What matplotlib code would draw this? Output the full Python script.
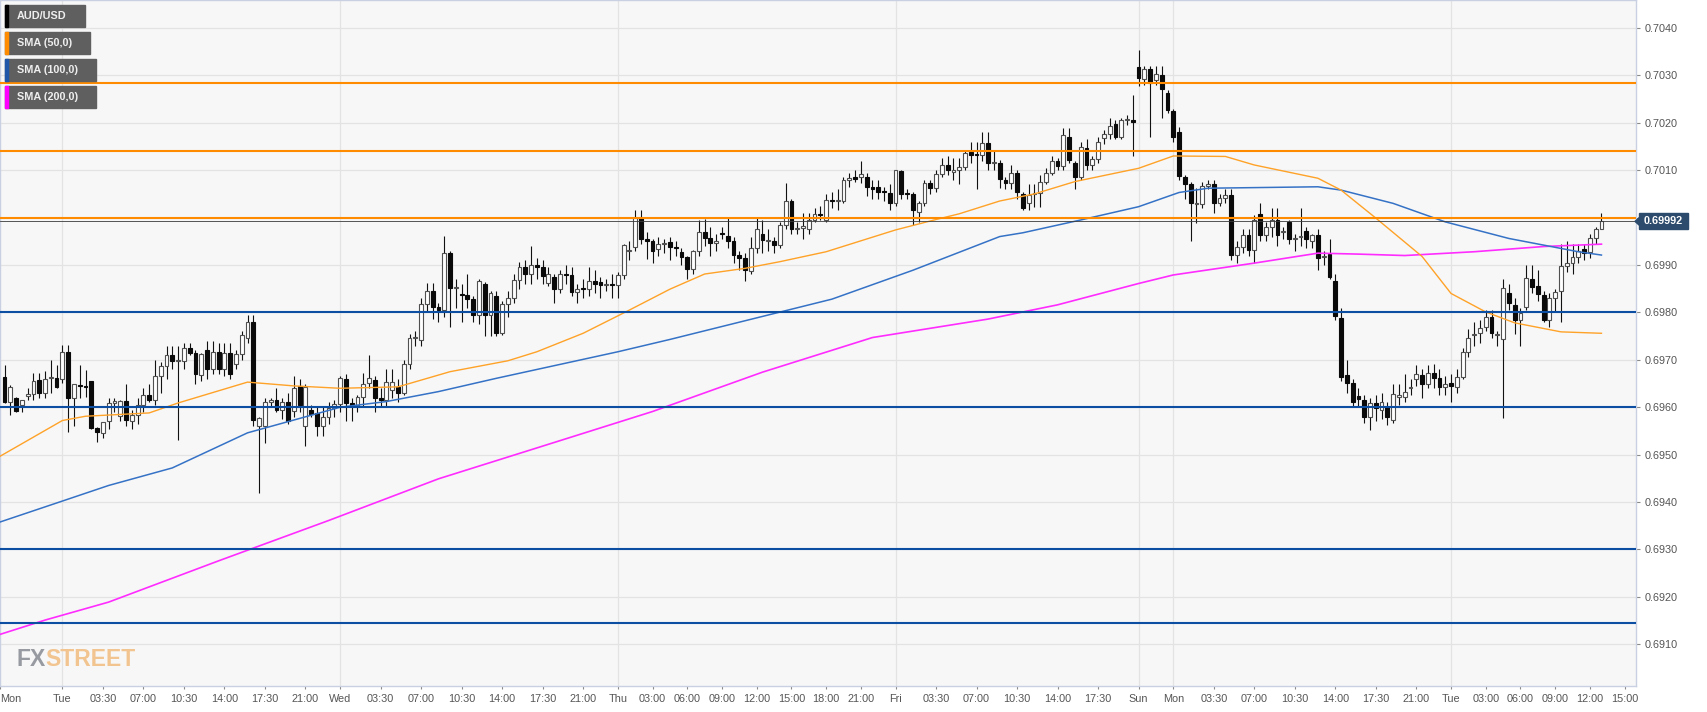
import numpy as np
import matplotlib
matplotlib.use("Agg")
import matplotlib.pyplot as plt
from matplotlib.patches import Rectangle, Polygon

plt.rcParams['font.family'] = ['Liberation Sans', 'DejaVu Sans']

# AUD/USD 30-minute candles (bar index 0 = Mon 19:00)
opens = [
    0.69664, 0.69612, 0.69619, 0.69604, 0.69624, 0.69627, 0.69657, 0.69631, 0.69662, 0.69662,
    0.69660, 0.69717, 0.69620, 0.69646, 0.69644, 0.69655, 0.69557, 0.69545, 0.69570, 0.69608,
    0.69582, 0.69614, 0.69572, 0.69584, 0.69605, 0.69626, 0.69615, 0.69666, 0.69687, 0.69710,
    0.69697, 0.69697, 0.69724, 0.69714, 0.69667, 0.69720, 0.69680, 0.69717, 0.69680, 0.69714,
    0.69692, 0.69712, 0.69747, 0.69780, 0.69560, 0.69560, 0.69610, 0.69615, 0.69594, 0.69610,
    0.69592, 0.69645, 0.69560, 0.69594, 0.69588, 0.69560, 0.69580, 0.69598, 0.69607, 0.69659,
    0.69608, 0.69605, 0.69621, 0.69652, 0.69657, 0.69619, 0.69615, 0.69636, 0.69643, 0.69631,
    0.69691, 0.69747, 0.69742, 0.69818, 0.69846, 0.69811, 0.69805, 0.69925, 0.69851, 0.69838,
    0.69836, 0.69828, 0.69794, 0.69860, 0.69794, 0.69835, 0.69756, 0.69818, 0.69831, 0.69868,
    0.69896, 0.69881, 0.69899, 0.69896, 0.69862, 0.69875, 0.69849, 0.69880, 0.69878, 0.69844,
    0.69852, 0.69850, 0.69866, 0.69864, 0.69857, 0.69861, 0.69857, 0.69878, 0.69930, 0.69937,
    0.70000, 0.69954, 0.69950, 0.69933, 0.69944, 0.69949, 0.69939, 0.69928, 0.69916, 0.69891,
    0.69930, 0.69970, 0.69958, 0.69946, 0.69968, 0.69962, 0.69950, 0.69922, 0.69915, 0.69888,
    0.69935, 0.69966, 0.69950, 0.69950, 0.69942, 0.69985, 0.70035, 0.69975, 0.69978, 0.69975,
    0.69996, 0.70008, 0.69996, 0.70037, 0.70035, 0.70035, 0.70079, 0.70086, 0.70085, 0.70085,
    0.70065, 0.70065, 0.70055, 0.70052, 0.70030, 0.70098, 0.70050, 0.70050, 0.70012, 0.70030,
    0.70072, 0.70063, 0.70093, 0.70112, 0.70097, 0.70101, 0.70107, 0.70139, 0.70135, 0.70133,
    0.70158, 0.70116, 0.70116, 0.70080, 0.70074, 0.70094, 0.70050, 0.70030, 0.70050, 0.70052,
    0.70076, 0.70095, 0.70120, 0.70109, 0.70171, 0.70116, 0.70085, 0.70146, 0.70110, 0.70124,
    0.70168, 0.70176, 0.70197, 0.70171, 0.70206, 0.70206, 0.70317, 0.70292, 0.70313, 0.70291,
    0.70301, 0.70263, 0.70225, 0.70180, 0.70085, 0.70071, 0.70029, 0.70029, 0.70066, 0.70071,
    0.70031, 0.70041, 0.70048, 0.69922, 0.69939, 0.69964, 0.69931, 0.70008, 0.69963, 0.69980,
    0.69994, 0.69969, 0.69990, 0.69955, 0.69959, 0.69971, 0.69951, 0.69963, 0.69917, 0.69923,
    0.69867, 0.69789, 0.69668, 0.69652, 0.69623, 0.69616, 0.69580, 0.69609, 0.69594, 0.69600,
    0.69573, 0.69621, 0.69622, 0.69640, 0.69659, 0.69668, 0.69650, 0.69673, 0.69661, 0.69642,
    0.69652, 0.69642, 0.69664, 0.69717, 0.69752, 0.69756, 0.69770, 0.69791, 0.69752, 0.69743,
    0.69840, 0.69815, 0.69784, 0.69812, 0.69870, 0.69856, 0.69836, 0.69784, 0.69830, 0.69846,
    0.69898, 0.69905, 0.69917, 0.69933, 0.69928, 0.69956, 0.69975,
]
highs = [
    0.69690, 0.69647, 0.69622, 0.69615, 0.69640, 0.69673, 0.69673, 0.69676, 0.69700, 0.69690,
    0.69731, 0.69731, 0.69650, 0.69690, 0.69678, 0.69656, 0.69558, 0.69568, 0.69620, 0.69620,
    0.69616, 0.69650, 0.69595, 0.69620, 0.69640, 0.69650, 0.69700, 0.69695, 0.69730, 0.69730,
    0.69730, 0.69735, 0.69735, 0.69720, 0.69715, 0.69740, 0.69740, 0.69735, 0.69735, 0.69735,
    0.69720, 0.69760, 0.69795, 0.69795, 0.69580, 0.69620, 0.69620, 0.69640, 0.69620, 0.69630,
    0.69665, 0.69660, 0.69650, 0.69605, 0.69600, 0.69600, 0.69610, 0.69615, 0.69665, 0.69670,
    0.69620, 0.69625, 0.69672, 0.69711, 0.69665, 0.69640, 0.69680, 0.69680, 0.69660, 0.69700,
    0.69755, 0.69760, 0.69830, 0.69862, 0.69862, 0.69820, 0.69961, 0.69930, 0.69870, 0.69860,
    0.69880, 0.69835, 0.69870, 0.69865, 0.69845, 0.69845, 0.69825, 0.69845, 0.69880, 0.69907,
    0.69910, 0.69940, 0.69915, 0.69910, 0.69895, 0.69880, 0.69890, 0.69900, 0.69895, 0.69860,
    0.69870, 0.69895, 0.69890, 0.69875, 0.69870, 0.69880, 0.69885, 0.69945, 0.69950, 0.70015,
    0.70015, 0.69970, 0.69955, 0.69960, 0.69955, 0.69960, 0.69950, 0.69935, 0.69920, 0.69932,
    0.69995, 0.69997, 0.69980, 0.69965, 0.69980, 0.69999, 0.69960, 0.69930, 0.69925, 0.69960,
    0.70000, 0.69995, 0.69975, 0.69960, 0.69990, 0.70072, 0.70040, 0.69990, 0.70010, 0.70010,
    0.70020, 0.70025, 0.70050, 0.70055, 0.70060, 0.70085, 0.70095, 0.70100, 0.70120, 0.70095,
    0.70080, 0.70080, 0.70065, 0.70070, 0.70100, 0.70100, 0.70060, 0.70055, 0.70035, 0.70080,
    0.70080, 0.70100, 0.70125, 0.70130, 0.70125, 0.70125, 0.70140, 0.70160, 0.70160, 0.70180,
    0.70180, 0.70140, 0.70122, 0.70085, 0.70110, 0.70100, 0.70055, 0.70070, 0.70070, 0.70090,
    0.70105, 0.70130, 0.70125, 0.70190, 0.70190, 0.70120, 0.70160, 0.70165, 0.70130, 0.70170,
    0.70185, 0.70210, 0.70205, 0.70210, 0.70216, 0.70259, 0.70354, 0.70320, 0.70320, 0.70320,
    0.70320, 0.70270, 0.70230, 0.70191, 0.70090, 0.70075, 0.70062, 0.70075, 0.70080, 0.70080,
    0.70050, 0.70060, 0.70060, 0.69950, 0.69975, 0.69975, 0.70005, 0.70030, 0.69990, 0.70020,
    0.70020, 0.69980, 0.69995, 0.69965, 0.70020, 0.69980, 0.69965, 0.69975, 0.69930, 0.69955,
    0.69880, 0.69810, 0.69700, 0.69660, 0.69640, 0.69625, 0.69620, 0.69625, 0.69630, 0.69610,
    0.69650, 0.69650, 0.69670, 0.69660, 0.69690, 0.69680, 0.69690, 0.69692, 0.69680, 0.69665,
    0.69670, 0.69680, 0.69725, 0.69765, 0.69780, 0.69785, 0.69805, 0.69805, 0.69760, 0.69870,
    0.69860, 0.69830, 0.69810, 0.69900, 0.69900, 0.69890, 0.69845, 0.69840, 0.69850, 0.69945,
    0.69950, 0.69945, 0.69945, 0.69945, 0.69965, 0.69980, 0.70010,
]
lows = [
    0.69608, 0.69583, 0.69590, 0.69590, 0.69615, 0.69615, 0.69620, 0.69620, 0.69630, 0.69640,
    0.69652, 0.69548, 0.69560, 0.69620, 0.69622, 0.69555, 0.69527, 0.69535, 0.69555, 0.69590,
    0.69570, 0.69560, 0.69555, 0.69565, 0.69590, 0.69610, 0.69605, 0.69630, 0.69660, 0.69680,
    0.69531, 0.69680, 0.69710, 0.69650, 0.69655, 0.69660, 0.69670, 0.69670, 0.69665, 0.69660,
    0.69680, 0.69700, 0.69735, 0.69560, 0.69419, 0.69524, 0.69600, 0.69590, 0.69575, 0.69565,
    0.69580, 0.69590, 0.69518, 0.69580, 0.69540, 0.69540, 0.69565, 0.69580, 0.69590, 0.69570,
    0.69570, 0.69590, 0.69600, 0.69640, 0.69590, 0.69600, 0.69600, 0.69620, 0.69610, 0.69625,
    0.69680, 0.69730, 0.69730, 0.69800, 0.69786, 0.69780, 0.69790, 0.69770, 0.69810, 0.69780,
    0.69810, 0.69780, 0.69775, 0.69750, 0.69750, 0.69750, 0.69752, 0.69790, 0.69820, 0.69850,
    0.69860, 0.69860, 0.69870, 0.69860, 0.69855, 0.69820, 0.69840, 0.69860, 0.69835, 0.69820,
    0.69830, 0.69835, 0.69840, 0.69830, 0.69845, 0.69830, 0.69830, 0.69870, 0.69910, 0.69930,
    0.69945, 0.69912, 0.69905, 0.69918, 0.69925, 0.69910, 0.69920, 0.69900, 0.69870, 0.69880,
    0.69920, 0.69940, 0.69920, 0.69930, 0.69955, 0.69935, 0.69905, 0.69890, 0.69866, 0.69880,
    0.69925, 0.69925, 0.69930, 0.69925, 0.69935, 0.69975, 0.69965, 0.69965, 0.69955, 0.69965,
    0.69990, 0.69995, 0.69990, 0.70020, 0.70015, 0.70030, 0.70065, 0.70075, 0.70072, 0.70045,
    0.70040, 0.70040, 0.70035, 0.70017, 0.70025, 0.70040, 0.70040, 0.69985, 0.69990, 0.70025,
    0.70050, 0.70055, 0.70085, 0.70090, 0.70080, 0.70070, 0.70100, 0.70115, 0.70060, 0.70120,
    0.70100, 0.70100, 0.70062, 0.70060, 0.70060, 0.70040, 0.70015, 0.70015, 0.70023, 0.70023,
    0.70070, 0.70090, 0.70100, 0.70100, 0.70115, 0.70060, 0.70080, 0.70100, 0.70100, 0.70115,
    0.70155, 0.70165, 0.70165, 0.70165, 0.70195, 0.70129, 0.70277, 0.70280, 0.70171, 0.70280,
    0.70210, 0.70220, 0.70160, 0.70080, 0.70039, 0.69950, 0.69988, 0.70020, 0.70060, 0.70010,
    0.70025, 0.70030, 0.69910, 0.69905, 0.69925, 0.69920, 0.69905, 0.69950, 0.69950, 0.69960,
    0.69940, 0.69955, 0.69945, 0.69930, 0.69940, 0.69935, 0.69935, 0.69890, 0.69900, 0.69870,
    0.69785, 0.69655, 0.69631, 0.69601, 0.69600, 0.69566, 0.69552, 0.69570, 0.69575, 0.69562,
    0.69566, 0.69605, 0.69610, 0.69625, 0.69645, 0.69620, 0.69640, 0.69640, 0.69625, 0.69625,
    0.69610, 0.69630, 0.69660, 0.69705, 0.69730, 0.69735, 0.69760, 0.69745, 0.69730, 0.69577,
    0.69805, 0.69755, 0.69730, 0.69805, 0.69840, 0.69825, 0.69780, 0.69770, 0.69800, 0.69780,
    0.69885, 0.69880, 0.69905, 0.69910, 0.69915, 0.69945, 0.69975,
]
closes = [
    0.69612, 0.69642, 0.69593, 0.69615, 0.69627, 0.69656, 0.69631, 0.69660, 0.69662, 0.69642,
    0.69717, 0.69620, 0.69648, 0.69645, 0.69642, 0.69557, 0.69547, 0.69568, 0.69608, 0.69614,
    0.69614, 0.69573, 0.69584, 0.69605, 0.69626, 0.69615, 0.69666, 0.69687, 0.69710, 0.69697,
    0.69697, 0.69724, 0.69715, 0.69671, 0.69712, 0.69680, 0.69717, 0.69680, 0.69714, 0.69671,
    0.69712, 0.69752, 0.69780, 0.69574, 0.69578, 0.69612, 0.69616, 0.69594, 0.69610, 0.69572,
    0.69640, 0.69605, 0.69642, 0.69586, 0.69560, 0.69580, 0.69598, 0.69607, 0.69661, 0.69608,
    0.69605, 0.69621, 0.69650, 0.69661, 0.69619, 0.69615, 0.69654, 0.69654, 0.69631, 0.69691,
    0.69747, 0.69747, 0.69818, 0.69846, 0.69811, 0.69805, 0.69925, 0.69851, 0.69851, 0.69836,
    0.69828, 0.69794, 0.69866, 0.69794, 0.69840, 0.69756, 0.69818, 0.69831, 0.69868, 0.69896,
    0.69881, 0.69899, 0.69896, 0.69876, 0.69880, 0.69849, 0.69880, 0.69878, 0.69844, 0.69850,
    0.69850, 0.69866, 0.69859, 0.69857, 0.69861, 0.69857, 0.69878, 0.69942, 0.69930, 0.70000,
    0.69954, 0.69950, 0.69929, 0.69944, 0.69946, 0.69939, 0.69935, 0.69916, 0.69891, 0.69930,
    0.69970, 0.69958, 0.69946, 0.69950, 0.69966, 0.69950, 0.69922, 0.69915, 0.69890, 0.69935,
    0.69977, 0.69952, 0.69950, 0.69942, 0.69985, 0.70035, 0.69975, 0.69978, 0.69982, 0.69996,
    0.70008, 0.70006, 0.70037, 0.70034, 0.70035, 0.70079, 0.70083, 0.70082, 0.70092, 0.70065,
    0.70061, 0.70055, 0.70054, 0.70030, 0.70100, 0.70050, 0.70049, 0.70015, 0.70030, 0.70072,
    0.70063, 0.70093, 0.70112, 0.70100, 0.70101, 0.70107, 0.70136, 0.70133, 0.70133, 0.70158,
    0.70116, 0.70116, 0.70081, 0.70072, 0.70095, 0.70055, 0.70020, 0.70047, 0.70050, 0.70076,
    0.70095, 0.70120, 0.70109, 0.70175, 0.70122, 0.70085, 0.70148, 0.70110, 0.70124, 0.70160,
    0.70176, 0.70193, 0.70171, 0.70206, 0.70206, 0.70201, 0.70294, 0.70313, 0.70284, 0.70303,
    0.70271, 0.70227, 0.70171, 0.70087, 0.70071, 0.70031, 0.70029, 0.70066, 0.70071, 0.70031,
    0.70041, 0.70048, 0.69922, 0.69939, 0.69964, 0.69931, 0.69996, 0.69963, 0.69980, 0.69994,
    0.69963, 0.69969, 0.69955, 0.69955, 0.69959, 0.69955, 0.69963, 0.69914, 0.69917, 0.69875,
    0.69792, 0.69664, 0.69652, 0.69612, 0.69618, 0.69580, 0.69608, 0.69598, 0.69612, 0.69580,
    0.69628, 0.69626, 0.69632, 0.69640, 0.69671, 0.69650, 0.69673, 0.69661, 0.69643, 0.69650,
    0.69645, 0.69664, 0.69717, 0.69745, 0.69752, 0.69768, 0.69791, 0.69756, 0.69752, 0.69851,
    0.69819, 0.69784, 0.69798, 0.69872, 0.69854, 0.69839, 0.69784, 0.69830, 0.69844, 0.69898,
    0.69905, 0.69917, 0.69930, 0.69925, 0.69956, 0.69975, 0.69992,
]

# moving averages at sample bars
sma50_x = [-1, 10, 14, 25, 30, 42, 50, 58, 68, 77, 87, 92, 100, 108, 115, 121, 128, 134, 142,
           154, 161, 165, 172, 178, 185, 196, 202, 211, 216, 227, 231, 237, 245, 250, 256, 261, 269, 276]
sma50_y = [0.69495, 0.69572, 0.69581, 0.69588, 0.69609, 0.69653, 0.69645, 0.69640, 0.69643, 0.69675,
           0.69698, 0.69717, 0.69756, 0.69805, 0.69849, 0.69881, 0.69893, 0.69907, 0.69928, 0.69974,
           0.69996, 0.70008, 0.70035, 0.70050, 0.70076, 0.70104, 0.70130, 0.70129, 0.70111, 0.70083,
           0.70058, 0.69999, 0.69918, 0.69840, 0.69801, 0.69778, 0.69759, 0.69756]
sma100_x = [-1, 9, 18, 29, 42, 58, 66, 75, 85, 97, 106, 115, 143, 157, 172, 176, 186, 196, 203,
            208, 227, 231, 240, 249, 260, 272, 276]
sma100_y = [0.69357, 0.69398, 0.69435, 0.69472, 0.69546, 0.69600, 0.69612, 0.69633, 0.69661, 0.69693,
            0.69717, 0.69743, 0.69828, 0.69889, 0.69960, 0.69968, 0.69995, 0.70023, 0.70053, 0.70062,
            0.70065, 0.70058, 0.70030, 0.69991, 0.69956, 0.69928, 0.69921]
sma200_x = [-1, 7, 18, 37, 56, 75, 93, 112, 131, 150, 170, 182, 196, 202, 216, 227, 234, 242, 254, 266, 276]
sma200_y = [0.69120, 0.69151, 0.69189, 0.69276, 0.69361, 0.69449, 0.69518, 0.69591, 0.69674, 0.69747,
            0.69786, 0.69816, 0.69861, 0.69879, 0.69904, 0.69925, 0.69923, 0.69920, 0.69928, 0.69939,
            0.69944]

resistance = [0.70283, 0.70141, 0.69999]
support = [0.6980, 0.6960, 0.6930, 0.69144]

xtick_pos = [10, 17, 24, 31, 38, 45, 52, 58, 65, 72, 79, 86, 93, 100, 106, 112, 118, 124, 130, 136,
             142, 148, 154, 161, 168, 175, 182, 189, 196, 202, 209, 216, 223, 230, 237, 244, 250,
             256, 262, 268, 274, 280]
xtick_lab = ['Tue', '03:30', '07:00', '10:30', '14:00', '17:30', '21:00', 'Wed', '03:30', '07:00',
             '10:30', '14:00', '17:30', '21:00', 'Thu', '03:00', '06:00', '09:00', '12:00', '15:00',
             '18:00', '21:00', 'Fri', '03:30', '07:00', '10:30', '14:00', '17:30', 'Sun', 'Mon',
             '03:30', '07:00', '10:30', '14:00', '17:30', '21:00', 'Tue', '03:00', '06:00', '09:00',
             '12:00', '15:00']
day_lines = [10, 58, 106, 154, 196, 202, 250]

legend_labels = ['AUD/USD', 'SMA (50,0)', 'SMA (100,0)', 'SMA (200,0)']
legend_colors = ['#000000', '#ff8c00', '#1f56a8', '#ff00ff']

W, H = 1707, 712
fig = plt.figure(figsize=(W / 100, H / 100), dpi=100)
ax = fig.add_axes([0, 26 / H, 1636 / W, 686 / H])
ax.set_facecolor('#f7f7f7')
XMIN, XMAX = -0.78, 281.97
ax.set_xlim(XMIN, XMAX)
ax.set_ylim(0.69012, 0.70459)

o = np.array(opens); h = np.array(highs); l = np.array(lows); c = np.array(closes)
x = np.arange(len(c))
up = c >= o
lo = np.minimum(o, c)
hgt = np.maximum(np.abs(c - o), 0.000022)

# grid
yt = np.round(np.arange(0.6910, 0.70405, 0.001), 4)
ax.set_yticks(yt)
# the 0.7000 label sits under the last-price tag
ax.set_yticklabels(['' if abs(v - 0.7) < 1e-6 else f'{v:.4f}' for v in yt])
ax.grid(axis='y', color='#e3e3e3', lw=0.9, zorder=0)
for d in day_lines:
    ax.axvline(d, color='#e3e3e3', lw=0.9, zorder=0)

# candles
ax.vlines(x, l, h, color='#111111', lw=0.8, zorder=3)
ax.bar(x[up], hgt[up], bottom=lo[up], width=0.66, color='white', edgecolor='#505050', lw=0.8, zorder=4)
ax.bar(x[~up], hgt[~up], bottom=lo[~up], width=0.66, color='#0a0a0a', edgecolor='#0a0a0a', lw=0.8, zorder=4)

# moving averages
ax.plot(sma200_x, sma200_y, color='#ff2cff', lw=1.2, zorder=5)
ax.plot(sma100_x, sma100_y, color='#3572c6', lw=1.1, zorder=5)
ax.plot(sma50_x, sma50_y, color='#ffa228', lw=1.0, zorder=5)

# levels
for lv in resistance:
    ax.axhline(lv, color='#ff8c00', lw=1.5, zorder=6)
for lv in support:
    ax.axhline(lv, color='#0b4ea2', lw=1.5, zorder=6)
ax.axhline(c[-1], color='#3a3a3a', lw=0.6, zorder=6)

# axes styling
for s in ax.spines.values():
    s.set_color('#c9d0e2')
    s.set_linewidth(1.0)
ax.yaxis.tick_right()
ax.tick_params(axis='y', length=3, width=0.8, color='#8a8a8a', labelcolor='#555555',
               labelsize=7.8, pad=3)
ax.set_xticks([XMIN] + xtick_pos)
ax.set_xticklabels(['Mon'] + xtick_lab)
ax.tick_params(axis='x', length=2.5, width=0.8, color='#8a8a8a', labelcolor='#555555',
               labelsize=7.8, pad=3)
ax.get_xticklabels()[0].set_horizontalalignment('left')

# price tag on right axis
fig.canvas.draw()
py = ax.transData.transform((0, c[-1]))[1]
fig.patches.append(Rectangle((1639 / W, (py - 8) / H), 49 / W, 16 / H, transform=fig.transFigure,
                             color='#2d4b6c', zorder=5))
fig.patches.append(Polygon([(1635 / W, py / H), (1639.5 / W, (py + 4) / H), (1639.5 / W, (py - 4) / H)],
                           closed=True, transform=fig.transFigure, color='#2d4b6c', zorder=5))
fig.text(1663.5 / W, py / H, f'{c[-1]:.5f}', color='white', fontsize=7.8, fontweight='bold',
         ha='center', va='center', zorder=6)

# legend boxes
tops = [5, 32, 59, 86]
renderer = fig.canvas.get_renderer()
for lab, col, t in zip(legend_labels, legend_colors, tops):
    txt = fig.text(17 / W, 1 - (t + 11) / H, lab, color='#eeeeee', fontsize=7.8, fontweight='bold',
                   va='center', ha='left', zorder=11)
    right = txt.get_window_extent(renderer).x1 + 18
    fig.patches.append(Rectangle((5 / W, 1 - (t + 22) / H), (right - 5) / W, 22 / H,
                                 transform=fig.transFigure, color='#5f5f5f', zorder=10))
    fig.patches.append(Rectangle((5 / W, 1 - (t + 22) / H), 3 / W, 22 / H,
                                 transform=fig.transFigure, color=col, zorder=10))

# watermark
fx = fig.text(16 / W, 1 - 666 / H, 'FX', color='#979aa1', fontsize=16.5, fontweight='bold',
              va='baseline', ha='left', zorder=4)
x1 = fx.get_window_extent(renderer).x1
fig.text((x1 + 0.5) / W, 1 - 666 / H, 'STREET', color='#f2c48f', fontsize=16.5, fontweight='bold',
         va='baseline', ha='left', zorder=4)

fig.savefig('out.png', dpi=100, facecolor='white')
